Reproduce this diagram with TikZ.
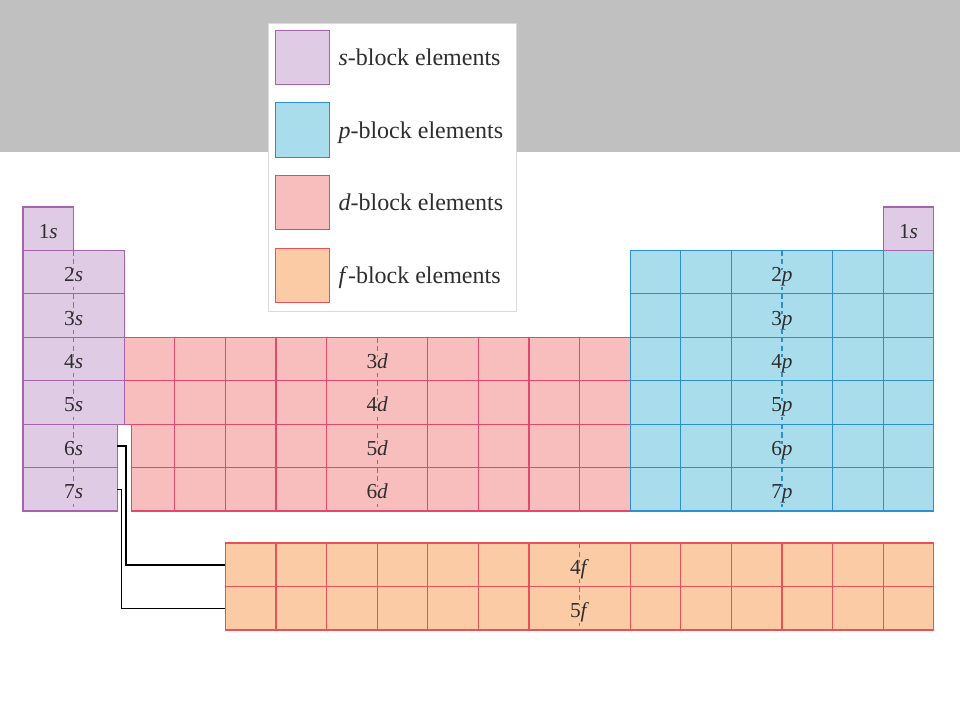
\documentclass[tikz,border=0pt]{standalone}
\usepackage{fontspec}
\setmainfont{Liberation Serif}
\definecolor{sfill}{HTML}{DFCCE4}
\definecolor{sline}{HTML}{A463AB}
\definecolor{pfill}{HTML}{A9DDEC}
\definecolor{pline}{HTML}{2B8FD0}
\definecolor{dfill}{HTML}{F8BDBD}
\definecolor{dline}{HTML}{E3486E}
\definecolor{ffill}{HTML}{FBCBA5}
\definecolor{fline}{HTML}{E8505A}
\definecolor{band}{HTML}{C0C0C0}
\definecolor{ink}{HTML}{2E2E2E}
\newcommand{\orb}[2]{#1\textit{#2}}

\begin{document}
\begin{tikzpicture}[x=37.95pt,y=-32.57pt,
   sgrid/.style={draw=sline,line width=0.9pt},
   sblk/.style={sgrid,fill=sfill},
   pgrid/.style={draw=pline,line width=0.9pt},
   pblk/.style={pgrid,fill=pfill},
   dgrid/.style={draw=dline,line width=0.9pt},
   dblk/.style={dgrid,fill=dfill},
   fgrid/.style={draw=fline,line width=0.9pt},
   fblk/.style={fgrid,fill=ffill},
   cut/.style={dash pattern=on 4pt off 2.5pt},
   lbl/.style={text=ink,font=\fontsize{16}{18}\selectfont,inner sep=1.5pt,
               text height=0.7em,text depth=0.22em,anchor=base},
   swatch/.style={minimum size=41pt,inner sep=0pt,line width=0.7pt},
   lgtext/.style={text=ink,font=\fontsize{18}{20}\selectfont,inner sep=0pt,
               text depth=0pt,anchor=west},
   link/.style={draw=black,line width=1.1pt}]
   \useasboundingbox (-0.4545,-4.766) rectangle (18.518,11.812);
   \fill[band] (-0.4545,-4.766) rectangle (18.518,-1.266);

   % legend
   \filldraw[draw=gray!30,fill=white,line width=0.5pt] (4.842,-4.237) rectangle (9.743,2.395);
   \node[swatch,draw=sline,fill=sfill] (sws) at (5.524,-3.442) {};
   \node[swatch,draw=pline,fill=pfill] (swp) at (5.524,-1.773) {};
   \node[swatch,draw=dline,fill=dfill] (swd) at (5.524,-0.104) {};
   \node[swatch,draw=fline,fill=ffill] (swf) at (5.524, 1.577) {};
   \node[lgtext] (lgs) at ([xshift=6pt]sws.east) {\textit{s}-block elements};
   \node[lgtext] (lgp) at ([xshift=6pt]swp.east) {\textit{p}-block elements};
   \node[lgtext] (lgd) at ([xshift=6pt]swd.east) {\textit{d}-block elements};
   \node[lgtext] (lgf) at ([xshift=6pt]swf.east) {\textit{f}-block elements};

   % d-block
   \filldraw[dblk] (2,3) rectangle (12,5);
   \filldraw[dblk] (2.14,5) rectangle (12,7);
   \draw[dgrid] (2,4) -- (12,4) (2.14,6) -- (12,6);
   \foreach \x in {3,4,5,6,8,9,10,11} \draw[dgrid] (\x,3) -- (\x,7);
   \draw[dgrid,cut] (7,3) -- (7,7);

   % s-block
   \filldraw[sblk] (0,0) rectangle (1,1);
   \filldraw[sblk] (0,1) rectangle (2,5);
   \filldraw[sblk] (0,5) rectangle (1.86,7);
   \draw[sgrid] (0,2) -- (2,2) (0,3) -- (2,3) (0,4) -- (2,4) (0,6) -- (1.86,6);
   \draw[sgrid,cut] (1,1) -- (1,7);

   % p-block
   \filldraw[pblk] (12,1) rectangle (18,7);
   \foreach \y in {2,...,6} \draw[pgrid] (12,\y) -- (18,\y);
   \foreach \x in {13,14,16,17} \draw[pgrid] (\x,1) -- (\x,7);
   \draw[pgrid,cut] (15,1) -- (15,7);
   \filldraw[sblk] (17,0) rectangle (18,1);

   % f-block
   \filldraw[fblk] (4,7.74) rectangle (18,9.74);
   \draw[fgrid] (4,8.74) -- (18,8.74);
   \foreach \x in {5,...,10,12,13,...,17} \draw[fgrid] (\x,7.74) -- (\x,9.74);
   \draw[fgrid,cut] (11,7.74) -- (11,9.74);

   % labels
   \node[lbl,fill=sfill] (sl1) at (0.5,0.72) {\orb{1}{s}};
   \node[lbl,fill=sfill] (sr1) at (17.5,0.72) {\orb{1}{s}};
   \foreach \n in {2,...,7} \node[lbl,fill=sfill] (sl\n) at (1,\n-0.28) {\orb{\n}{s}};
   \foreach \n in {2,...,7} \node[lbl,fill=pfill] (pl\n) at (15,\n-0.28) {\orb{\n}{p}};
   \foreach \n in {3,...,6} \node[lbl,fill=dfill] (dl\n) at (7,\n+0.72) {\orb{\n}{d}};
   \node[lbl,fill=ffill] (fl4) at (11,8.46) {\orb{4}{f}};
   \node[lbl,fill=ffill] (fl5) at (11,9.46) {\orb{5}{f}};

   % connectors
   \coordinate (s6e) at (1.86,5.5);
   \coordinate (s7e) at (1.86,6.5);
   \coordinate (f4w) at (4,8.24);
   \coordinate (f5w) at (4,9.24);
   \draw[link] (s6e) -- ++(0.18,0) |- (f4w);
   \draw[link] (s7e) -- ++(0.09,0) |- (f5w);
\end{tikzpicture}
\end{document}
